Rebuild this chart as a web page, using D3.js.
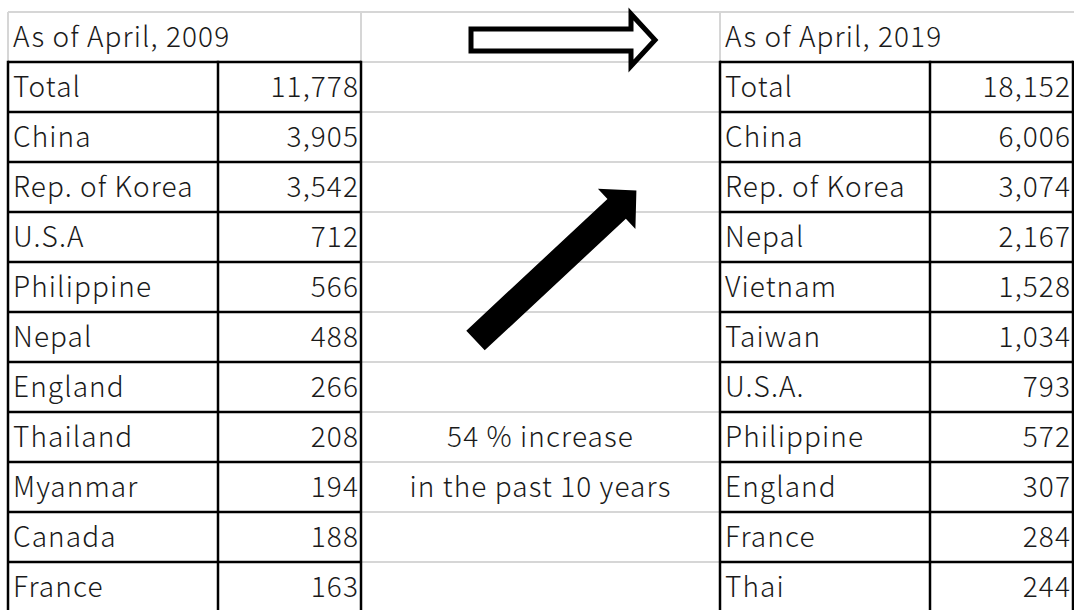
<!DOCTYPE html>
<html>
<head>
<meta charset="utf-8">
<script src="https://cdn.jsdelivr.net/npm/d3@7"></script>
<style>
  html, body { margin: 0; padding: 0; background: #fff; }
  svg { display: block; }
  text { font-family: "Noto Sans CJK JP", "Noto Sans", sans-serif; font-weight: 300; letter-spacing: 1.1px; fill: #1a1a1a; }
</style>
</head>
<body>
<div id="chart"></div>
<script>
// data
const title2009 = "As of April, 2009";
const title2019 = "As of April, 2019";
const countries2009 = ["Total", "China", "Rep. of Korea", "U.S.A", "Philippine", "Nepal", "England", "Thailand", "Myanmar", "Canada", "France"];
const values2009 = [11778, 3905, 3542, 712, 566, 488, 266, 208, 194, 188, 163];
const countries2019 = ["Total", "China", "Rep. of Korea", "Nepal", "Vietnam", "Taiwan", "U.S.A.", "Philippine", "England", "France", "Thai"];
const values2019 = [18152, 6006, 3074, 2167, 1528, 1034, 793, 572, 307, 284, 244];
const noteLines = ["54 % increase", "in the past 10 years"];
const noteRows = [8, 9]; // rows of the middle column holding the note

const width = 1074, height = 610;
const fontSize = 28;

// column edges: left table | middle | right table
const col = {l0: 8, l1: 218, l2: 361, r0: 720, r1: 930, r2: 1073};

const svg = d3.select("#chart").append("svg")
    .attr("width", width)
    .attr("height", height);

svg.append("rect").attr("width", width).attr("height", height).attr("fill", "#fff");

// rows: 0 = header, 1..11 = data
const nRows = countries2009.length + 1;
const y = d3.scaleBand()
    .domain(d3.range(nRows))
    .range([12, 12 + nRows * 50]);
const rh = y.bandwidth();
const fmt = d3.format(",");

// gray gridlines
const grid = svg.append("g").attr("stroke", "#d6d6d6").attr("stroke-width", 2);
grid.append("line").attr("x1", col.l0).attr("x2", width).attr("y1", y(0)).attr("y2", y(0));
[col.l0, col.l2, col.r0].forEach(x => {
    grid.append("line").attr("x1", x).attr("x2", x).attr("y1", y(0)).attr("y2", y(1));
});
d3.range(1, nRows).forEach(i => {
    grid.append("line").attr("x1", col.l2).attr("x2", col.r0).attr("y1", y(i)).attr("y2", y(i));
});

// black table borders
function drawTable(x0, x1, x2, names, vals) {
    const g = svg.append("g");
    const rows = d3.range(1, nRows);
    g.selectAll("line.h")
        .data(d3.range(1, nRows + 1))
        .join("line")
        .attr("class", "h")
        .attr("x1", x0).attr("x2", x2)
        .attr("y1", i => i < nRows ? y(i) : y(nRows - 1) + rh)
        .attr("y2", i => i < nRows ? y(i) : y(nRows - 1) + rh)
        .attr("stroke", "#000").attr("stroke-width", 2.5);
    [x0, x1, x2].forEach(x => {
        g.append("line")
            .attr("x1", x).attr("x2", x)
            .attr("y1", y(1) - 1.25).attr("y2", y(nRows - 1) + rh)
            .attr("stroke", "#000").attr("stroke-width", 2.5);
    });
    g.selectAll("text.name")
        .data(rows)
        .join("text")
        .attr("class", "name")
        .attr("x", x0 + 5)
        .attr("y", i => y(i) + 35)
        .attr("font-size", fontSize)
        .text(i => names[i - 1]);
    g.selectAll("text.val")
        .data(rows)
        .join("text")
        .attr("class", "val")
        .attr("x", x2 - 2)
        .attr("y", i => y(i) + 35)
        .attr("text-anchor", "end")
        .attr("font-size", fontSize)
        .text(i => fmt(vals[i - 1]));
}

drawTable(col.l0, col.l1, col.l2, countries2009, values2009);
drawTable(col.r0, col.r1, col.r2, countries2019, values2019);

// header titles
svg.append("text").attr("x", col.l0 + 5).attr("y", y(0) + 35).attr("font-size", fontSize).text(title2009);
svg.append("text").attr("x", col.r0 + 5).attr("y", y(0) + 35).attr("font-size", fontSize).text(title2019);

// note in the middle column
svg.selectAll("text.note")
    .data(noteLines)
    .join("text")
    .attr("class", "note")
    .attr("x", (col.l2 + col.r0) / 2)
    .attr("y", (d, i) => y(noteRows[i]) + 35)
    .attr("text-anchor", "middle")
    .attr("font-size", fontSize)
    .text(d => d);

// hollow arrow in header row
const arrowLine = d3.line();
svg.append("path")
    .attr("transform", `translate(${col.l2 + 110},${y(0) + rh / 2 + 3})`)
    .attr("d", arrowLine([[0, -11], [160, -11], [160, -26], [184, 0], [160, 26], [160, 11], [0, 11]]) + "Z")
    .attr("fill", "#fff")
    .attr("stroke", "#000")
    .attr("stroke-width", 5)
    .attr("stroke-linejoin", "miter");

// solid diagonal arrow
svg.append("path")
    .attr("transform", `translate(${col.l2 + 114.5},${y(6) + 28.5}) rotate(-43)`)
    .attr("d", arrowLine([[0, -13.5], [193, -13.5], [193, -27.5], [220, 0], [193, 27.5], [193, 13.5], [0, 13.5]]) + "Z")
    .attr("fill", "#000");
</script>
</body>
</html>
